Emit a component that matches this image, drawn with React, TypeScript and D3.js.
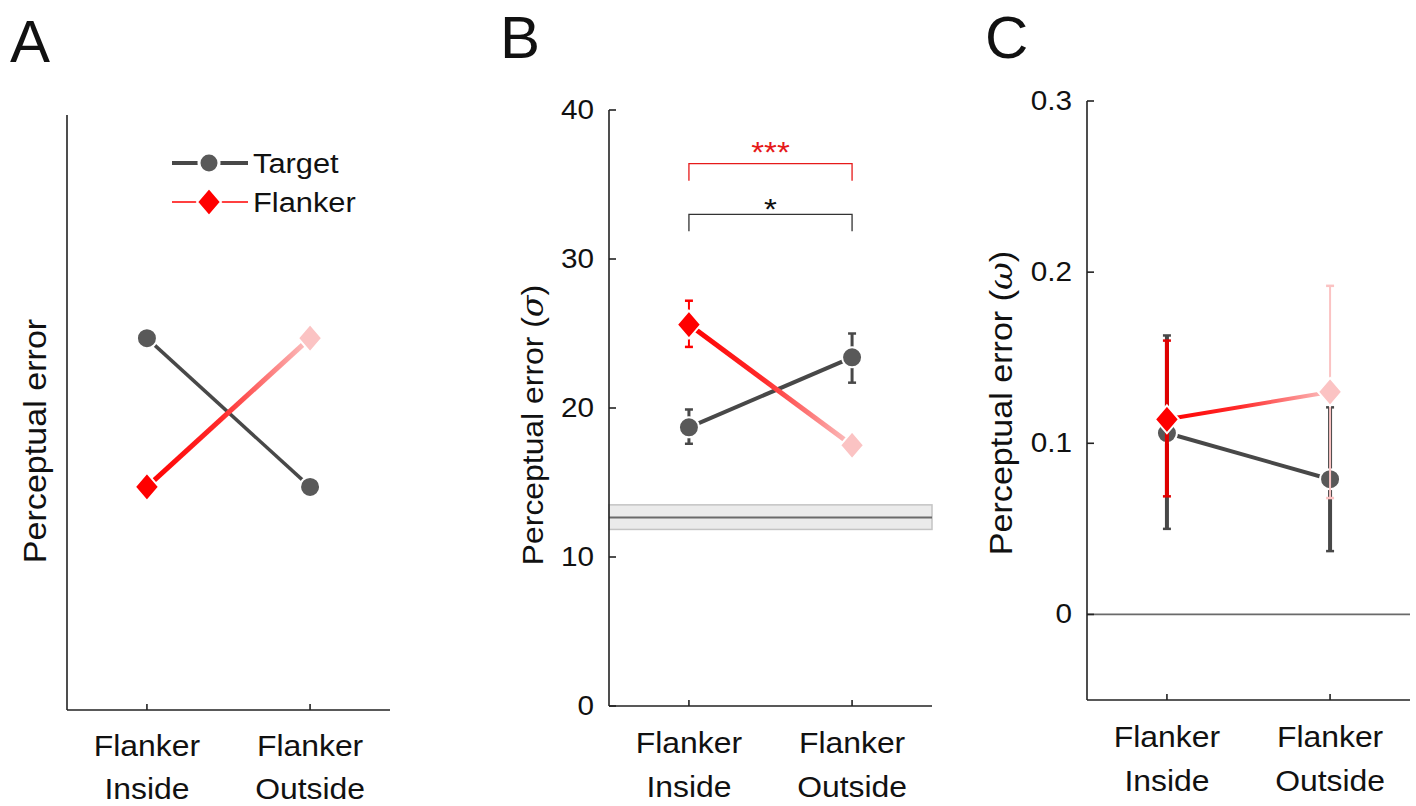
import React from 'react';
import * as d3 from 'd3';

// conditions on the x axis
const conditions = ['Flanker Inside', 'Flanker Outside'];
const condLines = [['Flanker', 'Inside'], ['Flanker', 'Outside']];

// panel A (schematic, no y ticks)
const targetA = [2.5, 1.5];
const flankerA = [1.5, 2.5];

// panel B (sigma)
const ticksB = [0, 10, 20, 30, 40];
const targetB = [18.7, 23.4];
const targetBLo = [17.6, 21.7];
const targetBHi = [19.9, 25.0];
const flankerB = [25.6, 17.5];
const flankerBLo = [24.1, 16.9];
const flankerBHi = [27.2, 18.1];
const baselineB = 12.65;
const baselineBand = [11.85, 13.5];
const sigLevels = [36.4, 33.0];
const sigLabels = ['***', '*'];

// panel C (omega)
const ticksC = [0, 0.1, 0.2, 0.3];
const targetC = [0.106, 0.079];
const targetCLo = [0.05, 0.037];
const targetCHi = [0.163, 0.121];
const flankerC = [0.114, 0.130];
const flankerCLo = [0.069, 0.068];
const flankerCHi = [0.160, 0.192];

const FONT = 'Liberation Sans, Arial, sans-serif';
const SX = 1.1; // text in the figure is a bit wide
const GREY = '#595959';
const GREY_LINE = '#484848';
const RED = '#ff0000';
const PINK = '#fbc3c3';
const AXW = 323;

const T = ({ x, y, size, anchor = 'middle', rotate = 0, fill = '#111', children, sx = SX }: any) => (
  <text
    transform={`translate(${x},${y}) rotate(${rotate}) scale(${sx},1)`}
    fontFamily={FONT}
    fontSize={size}
    textAnchor={anchor}
    fill={fill}
  >
    {children}
  </text>
);

const diamond = (cx: number, cy: number, w: number, h: number) =>
  `M${cx},${cy - h}L${cx + w},${cy}L${cx},${cy + h}L${cx - w},${cy}Z`;

const ErrBar = ({ x, lo, hi, color, w }: any) => (
  <g stroke={color} strokeWidth={w}>
    <line x1={x} x2={x} y1={lo} y2={hi} />
    <line x1={x - 4} x2={x + 4} y1={lo} y2={lo} strokeWidth={2.5} />
    <line x1={x - 4} x2={x + 4} y1={hi} y2={hi} strokeWidth={2.5} />
  </g>
);

function Panel({ id, x0, top, bottom, domain, ticks, fmt, target, flanker, tLo, tHi, fLo, fHi, lineW, errW, children }: any) {
  const x = d3.scalePoint<string>().domain(conditions).range([x0, x0 + AXW]).padding(0.49);
  const y = d3.scaleLinear().domain(domain).range([bottom, top]);
  const xs = conditions.map((c) => x(c) as number);
  const line = d3.line<number>().x((_, i) => xs[i]).y((v) => y(v));
  return (
    <g>
      <defs>
        <linearGradient id={`grad${id}`} gradientUnits="userSpaceOnUse" x1={xs[0]} x2={xs[1]} y1={0} y2={0}>
          <stop offset="0" stopColor={RED} />
          <stop offset="0.45" stopColor="#ff2a2a" />
          <stop offset="1" stopColor={PINK} />
        </linearGradient>
      </defs>
      {children && children(x, y)}
      {/* axes */}
      <g stroke="#222" strokeWidth={1.6} fill="none">
        <line x1={x0} x2={x0} y1={top} y2={bottom} />
        <line x1={x0} x2={x0 + AXW} y1={bottom} y2={bottom} />
        {xs.map((v, i) => <line key={i} x1={v} x2={v} y1={bottom} y2={bottom - 6} />)}
        {ticks.map((t: number) => <line key={t} x1={x0} x2={x0 + 7} y1={y(t)} y2={y(t)} />)}
      </g>
      {ticks.map((t: number) => (
        <T key={t} x={x0 - 15} y={y(t) + 9} size={27} anchor="end">{fmt(t)}</T>
      ))}
      {condLines.map((ls, i) => (
        <g key={i}>
          <T x={xs[i]} y={Math.min(bottom + 47, 756)} size={29}>{ls[0]}</T>
          <T x={xs[i]} y={Math.min(bottom + 91, 799)} size={29}>{ls[1]}</T>
        </g>
      ))}
      {/* target series */}
      {tLo && xs.map((v, i) => <ErrBar key={i} x={v} lo={y(tLo[i])} hi={y(tHi[i])} color={GREY_LINE} w={errW[0]} />)}
      <path d={line(target) as string} stroke={GREY_LINE} strokeWidth={lineW[0]} fill="none" />
      {xs.map((v, i) => (
        <circle key={i} cx={v} cy={y(target[i])} r={10} fill={GREY} stroke="#fff" strokeWidth={2} />
      ))}
      {/* flanker series */}
      {fLo && xs.map((v, i) => (
        <ErrBar key={i} x={v} lo={y(fLo[i])} hi={y(fHi[i])} color={i === 0 ? (id === 'C' ? '#e00000' : RED) : PINK} w={i === 0 ? errW[1] : 2} />
      ))}
      <path d={line(flanker) as string} stroke={`url(#grad${id})`} strokeWidth={lineW[1]} fill="none" />
      {xs.map((v, i) => (
        <path key={i} d={diamond(v, y(flanker[i]), 12, 14)} fill={i === 0 ? RED : PINK} stroke="#fff" strokeWidth={2} />
      ))}
    </g>
  );
}

export default function App() {
  return (
    <svg width={1416} height={806} style={{ display: 'block', position: 'absolute', left: 0, top: 0, background: '#fff' }}>
      <rect width={1416} height={806} fill="#fff" />
      {/* panel letters */}
      <T x={10} y={62} size={60} anchor="start" sx={1}>A</T>
      <T x={500} y={58} size={60} anchor="start" sx={1}>B</T>
      <T x={985} y={58} size={60} anchor="start" sx={1}>C</T>

      {/* Panel A */}
      <Panel id="A" x0={67} top={115} bottom={710} domain={[0, 4]} ticks={[]} fmt={String}
        target={targetA} flanker={flankerA} lineW={[3.5, 5]} errW={[3, 3]} />
      <T x={46} y={441} size={31} rotate={-90}>Perceptual error</T>
      {/* legend */}
      <g>
        <line x1={172} x2={248} y1={163} y2={163} stroke={GREY_LINE} strokeWidth={4} />
        <circle cx={209} cy={163} r={10} fill={GREY} stroke="#fff" strokeWidth={3} />
        <T x={253} y={173} size={28} anchor="start">Target</T>
        <line x1={172} x2={248} y1={202} y2={202} stroke={RED} strokeWidth={1.5} />
        <path d={diamond(209, 202, 12, 14)} fill={RED} stroke="#fff" strokeWidth={2} />
        <T x={253} y={212} size={28} anchor="start">Flanker</T>
      </g>

      {/* Panel B */}
      <Panel id="B" x0={609} top={110} bottom={706} domain={[0, 40]} ticks={ticksB} fmt={(t: number) => String(t)}
        target={targetB} flanker={flankerB} tLo={targetBLo} tHi={targetBHi} fLo={flankerBLo} fHi={flankerBHi}
        lineW={[4, 5]} errW={[3, 2]}>
        {(x: any, y: any) => {
          const xa = 609, xb = 609 + AXW;
          const xs = conditions.map((c) => x(c));
          const xm = (xs[0] + xs[1]) / 2;
          return (
            <g>
              <rect x={xa} width={xb - xa} y={y(baselineBand[1])} height={y(baselineBand[0]) - y(baselineBand[1])}
                fill="#ebebeb" stroke="#c4c4c4" strokeWidth={1.5} />
              <line x1={xa} x2={xb} y1={y(baselineB)} y2={y(baselineB)} stroke="#6a6a6a" strokeWidth={1.8} />
              {sigLevels.map((lv, i) => {
                const c = i === 0 ? '#e61a1a' : '#333';
                return (
                  <g key={i}>
                    <path d={`M${xs[0]},${y(lv) + 17}V${y(lv)}H${xs[1]}V${y(lv) + 17}`} fill="none" stroke={c} strokeWidth={1.3} />
                    <T x={xm} y={y(lv) + (i === 0 ? -2 : 5)} size={30} fill={i === 0 ? '#e61a1a' : '#111'}>{sigLabels[i]}</T>
                  </g>
                );
              })}
            </g>
          );
        }}
      </Panel>
      <T x={543} y={425} size={29} rotate={-90}>
        Perceptual error (<tspan fontFamily="DejaVu Serif, serif" fontStyle="italic">σ</tspan>)
      </T>

      {/* Panel C */}
      <Panel id="C" x0={1087} top={101} bottom={700} domain={[-0.05, 0.3]} ticks={ticksC}
        fmt={(t: number) => (t === 0 ? '0' : d3.format('.1f')(t))}
        target={targetC} flanker={flankerC} tLo={targetCLo} tHi={targetCHi} fLo={flankerCLo} fHi={flankerCHi}
        lineW={[4, 4]} errW={[4, 4]}>
        {(x: any, y: any) => (
          <line x1={1087} x2={1087 + AXW} y1={y(0)} y2={y(0)} stroke="#6a6a6a" strokeWidth={1.8} />
        )}
      </Panel>
      <T x={1012} y={403} size={31} rotate={-90}>
        Perceptual error (<tspan fontFamily="DejaVu Serif, serif" fontStyle="italic">ω</tspan>)
      </T>
    </svg>
  );
}
